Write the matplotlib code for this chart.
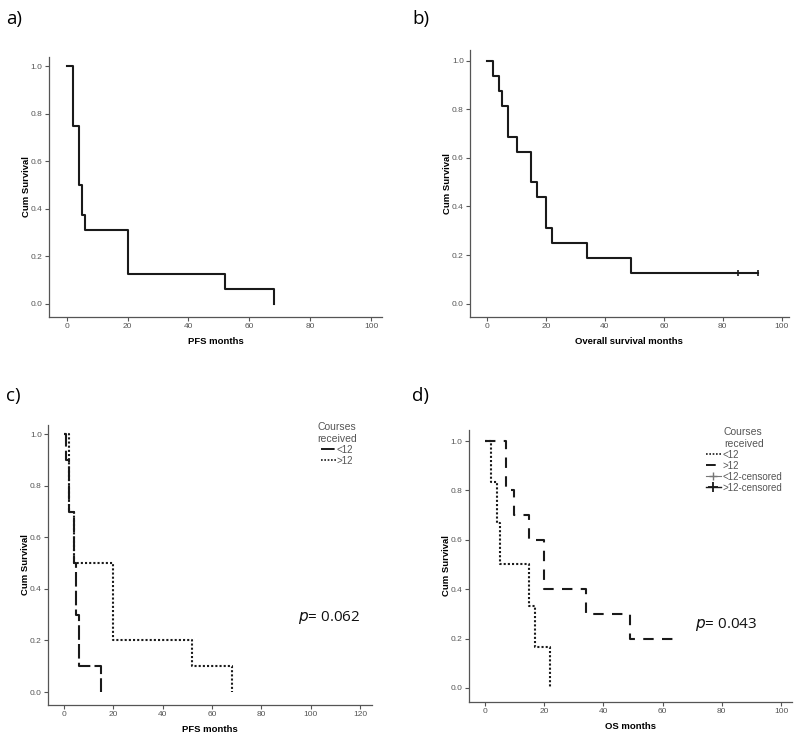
import numpy as np
import matplotlib
matplotlib.use("Agg")
import matplotlib.pyplot as plt
from matplotlib.lines import Line2D

plt.rcParams['font.family'] = ['Liberation Sans', 'DejaVu Sans']

# a) PFS, all patients
pfs_times = [0, 2, 4, 5, 6, 20, 52, 68]
pfs_surv = [1.0, 0.75, 0.5, 0.375, 0.3125, 0.125, 0.0625, 0.0]

# b) overall survival, all patients
os_times = [0, 2, 4, 5, 7, 10, 15, 17, 20, 22, 34, 49, 92]
os_surv = [1.0, 0.9375, 0.875, 0.8125, 0.6875, 0.625, 0.5, 0.4375, 0.3125, 0.25, 0.1875, 0.125, 0.125]
os_censored = [85, 92]
os_censored_surv = [0.125, 0.125]

# c) PFS by courses received
pfs_lt12_times = [0, 1, 2, 4, 5, 6, 15]
pfs_lt12_surv = [1.0, 0.9, 0.7, 0.5, 0.3, 0.1, 0.0]
pfs_gt12_times = [0, 2, 4, 20, 52, 68]
pfs_gt12_surv = [1.0, 0.7, 0.5, 0.2, 0.1, 0.0]

# d) OS by courses received
os_lt12_times = [0, 2, 4, 5, 15, 17, 22]
os_lt12_surv = [1.0, 0.8333, 0.6667, 0.5, 0.3333, 0.1667, 0.0]
os_gt12_times = [0, 7, 10, 15, 20, 34, 49, 66]
os_gt12_surv = [1.0, 0.8, 0.7, 0.6, 0.4, 0.3, 0.2, 0.2]

yticks = [0.0, 0.2, 0.4, 0.6, 0.8, 1.0]
ylabels = ['0.0', '0.2', '0.4', '0.6', '0.8', '1.0']

dash_long = (0, (7, 2))
dash_short = (0, (5, 4))
dots = (0, (1, 1))


def km_line(ax, t, s, **kw):
    # step curve, vertical drop at each event time
    ax.step(t, s, where='post', color='#1a1a1a', lw=1.5, **kw)


def style_axes(ax, xlim, ylim, xticks, xlabel):
    ax.set_xlim(*xlim)
    ax.set_ylim(*ylim)
    ax.set_xticks(xticks)
    ax.set_xticklabels([str(x) for x in xticks])
    ax.set_yticks(yticks)
    ax.set_yticklabels(ylabels)
    for side in ['top', 'right']:
        ax.spines[side].set_visible(False)
    for side in ['left', 'bottom']:
        ax.spines[side].set_color('#555555')
        ax.spines[side].set_linewidth(0.9)
    ax.tick_params(axis='both', direction='out', length=3, width=0.8,
                   color='#555555', labelsize=6.0, labelcolor='#555555', pad=1.5)
    ax.set_ylabel('Cum Survival', fontsize=6.8, fontweight='bold', labelpad=0)
    ax.set_xlabel(xlabel, fontsize=6.8, fontweight='bold', labelpad=5)


def style_legend(leg):
    leg.get_title().set_color('#555555')
    for txt in leg.get_texts():
        txt.set_color('#555555')


fig = plt.figure(figsize=(8, 7.42), dpi=100)

ax_a = fig.add_axes([0.061, 0.573, 0.4165, 0.350])
ax_b = fig.add_axes([0.5875, 0.573, 0.3985, 0.360])
ax_c = fig.add_axes([0.060, 0.050, 0.405, 0.377])
ax_d = fig.add_axes([0.586, 0.054, 0.404, 0.3665])

# a
km_line(ax_a, pfs_times, pfs_surv)
style_axes(ax_a, (-5.9, 103.6), (-0.055, 1.038), [0, 20, 40, 60, 80, 100], 'PFS months')

# b
km_line(ax_b, os_times, os_surv)
ax_b.plot(os_censored, os_censored_surv, linestyle='none', marker='|',
          markersize=5, mew=1.2, color='#1a1a1a')
style_axes(ax_b, (-5.8, 102.4), (-0.054, 1.045), [0, 20, 40, 60, 80, 100], 'Overall survival months')

# c
km_line(ax_c, pfs_gt12_times, pfs_gt12_surv, linestyle=dots)
km_line(ax_c, pfs_lt12_times, pfs_lt12_surv, linestyle=dash_long)
style_axes(ax_c, (-6.5, 124.9), (-0.05, 1.035), [0, 20, 40, 60, 80, 100, 120], 'PFS months')
handles_c = [
    Line2D([], [], color='#1a1a1a', lw=1.4, linestyle=dash_long),
    Line2D([], [], color='#1a1a1a', lw=1.2, linestyle=dots),
]
leg_c = ax_c.legend(handles_c, ['<12', '>12'], title='Courses\nreceived',
                    loc='upper right', bbox_to_anchor=(0.975, 1.035), frameon=False,
                    fontsize=7, title_fontsize=7.5, handlelength=1.5,
                    handletextpad=0.1, labelspacing=0.1, borderpad=0.2)
style_legend(leg_c)
ax_c.text(95, 0.29, r'$\it{p}$= 0.062', fontsize=11, family='Open Sans',
          color='#111111', va='center')

# d
km_line(ax_d, os_lt12_times, os_lt12_surv, linestyle=dots)
km_line(ax_d, os_gt12_times, os_gt12_surv, linestyle=dash_short)
style_axes(ax_d, (-5.4, 103.7), (-0.057, 1.045), [0, 20, 40, 60, 80, 100], 'OS months')
handles_d = [
    Line2D([], [], color='#1a1a1a', lw=1.2, linestyle=dots),
    Line2D([], [], color='#1a1a1a', lw=1.4, linestyle=dash_short),
    Line2D([], [], color='#777777', lw=0.8, marker='+', markersize=6),
    Line2D([], [], color='#1a1a1a', lw=1.0, marker='+', markersize=7, mew=1.3),
]
leg_d = ax_d.legend(handles_d, ['<12', '>12', '<12-censored', '>12-censored'],
                    title='Courses\nreceived', loc='upper right',
                    bbox_to_anchor=(0.99, 1.035), frameon=False,
                    fontsize=7, title_fontsize=7.5, handlelength=1.6,
                    handletextpad=0.1, labelspacing=0.1, borderpad=0.2)
style_legend(leg_d)
ax_d.text(71, 0.255, r'$\it{p}$= 0.043', fontsize=11, family='Open Sans',
          color='#111111', va='center')

# panel letters
for x, y, s in [(0.008, 0.987, 'a)'), (0.515, 0.987, 'b)'),
                (0.008, 0.479, 'c)'), (0.515, 0.479, 'd)')]:
    fig.text(x, y, s, fontsize=13.5, family='Open Sans', va='top', ha='left')

fig.savefig('out.png', dpi=100)
